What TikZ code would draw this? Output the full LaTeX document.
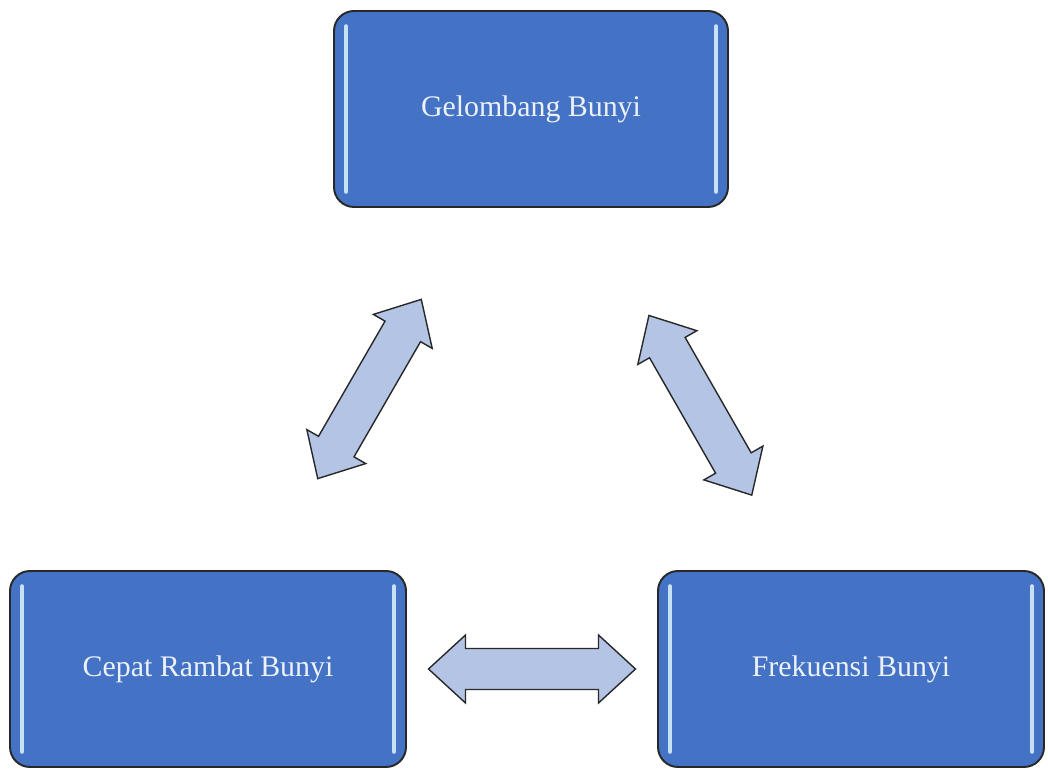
\documentclass[tikz,border=0pt]{standalone}
\usepackage{fontspec}
\setmainfont{Liberation Serif}
\usetikzlibrary{calc}
\definecolor{boxblue}{RGB}{68, 114, 196}
\definecolor{glint}{RGB}{200, 224, 245}
\definecolor{arrowblue}{RGB}{180, 196, 228}
\definecolor{edgegray}{RGB}{40, 40, 40}
\definecolor{labelwhite}{RGB}{236, 241, 250}
\begin{document}
\begin{tikzpicture}[
    topic/.style={draw=edgegray,line width=1.1pt,fill=boxblue,rounded corners=.4cm,
      minimum height=3.92cm,text=labelwhite,font=\fontsize{17}{20}\selectfont,
      path picture={
        \draw[glint,line width=2pt,line cap=round]
          ([xshift=.24cm,yshift=-.3cm]path picture bounding box.north west) --
          ([xshift=.24cm,yshift=.3cm]path picture bounding box.south west);
        \draw[glint,line width=2pt,line cap=round]
          ([xshift=-.24cm,yshift=-.3cm]path picture bounding box.north east) --
          ([xshift=-.24cm,yshift=.3cm]path picture bounding box.south east);}},
    bidir/.pic={
      \draw[draw=edgegray,line width=.8pt,fill=arrowblue,line join=miter]
        (-2.07,0) -- (-1.33,.68) -- (-1.33,.41) -- (1.33,.41) -- (1.33,.68) --
        (2.07,0) -- (1.33,-.68) -- (1.33,-.41) -- (-1.33,-.41) -- (-1.33,-.68) -- cycle;}
  ]
        %\draw[step=1cm,gray,very thin] (0,0) grid (21,15.5);
        \useasboundingbox (0,0) rectangle (20.96,15.44);
        \node[topic,minimum width=7.88cm] (gelombang) at (10.62,13.26) {Gelombang Bunyi};
        \node[topic,minimum width=7.92cm] (cepat) at (4.16,2.06) {Cepat Rambat Bunyi};
        \node[topic,minimum width=7.72cm] (frekuensi) at (17.02,2.06) {Frekuensi Bunyi};
        \path (cepat) -- pic[pos=.5,sloped] {bidir} (gelombang);
        \path (gelombang) -- pic[pos=.545,sloped] {bidir} (frekuensi);
        \path (cepat) -- pic[pos=.5,sloped] {bidir} (frekuensi);
      \end{tikzpicture}
\end{document}
